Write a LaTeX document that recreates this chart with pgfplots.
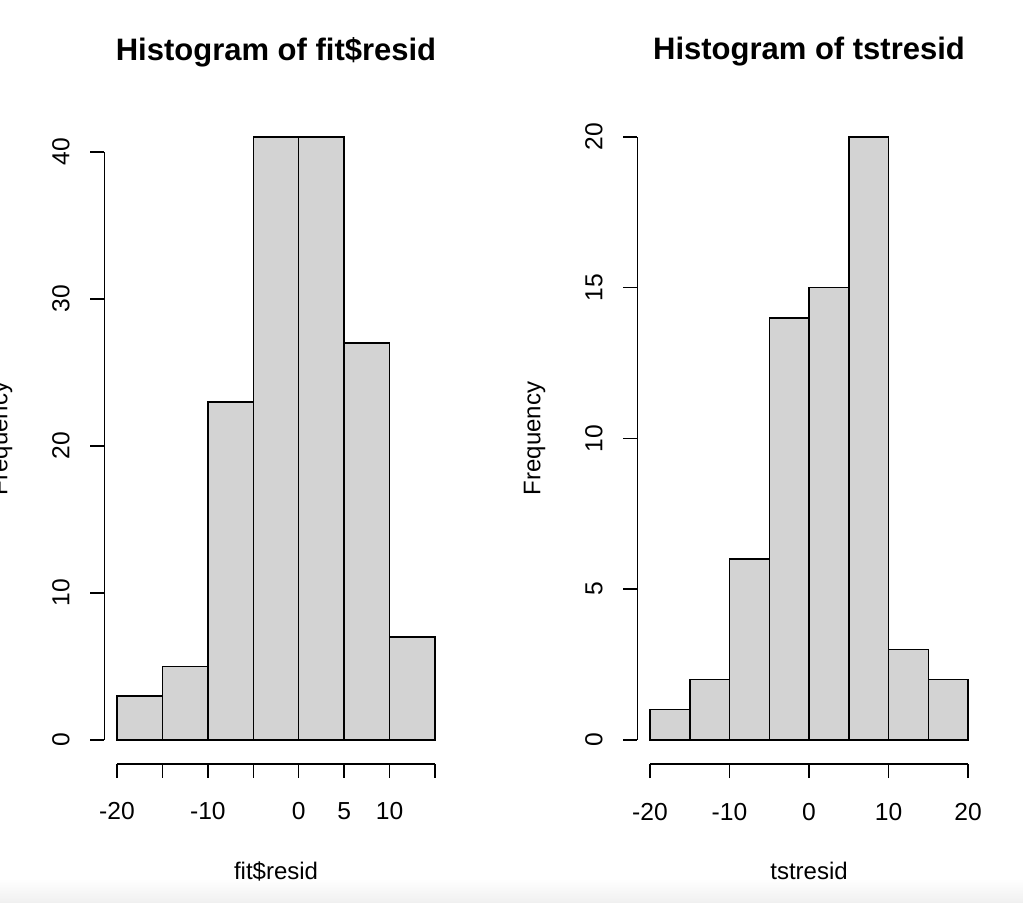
\documentclass[border=0pt]{standalone}
\usepackage{pgfplots}
\pgfplotsset{compat=1.18}
\usepackage{fontspec}
\setmainfont{Liberation Sans}
\definecolor{barfill}{HTML}{D3D3D3}

% R base-graphics look: axes detached from the plot region
\pgfplotsset{
  rhist/.style={
    scale only axis,
    anchor=south west,
    axis x line*=bottom,
    axis y line*=left,
    axis line style={-, line width=0.75bp},
    tick align=outside,
    major tick length=7bp,
    every tick/.style={black, line width=0.75bp},
    minor tick num=0,
    ticklabel style={font=\fontsize{12.3bp}{14bp}\selectfont},
    xticklabel style={anchor=base, yshift=-21bp},
    yticklabel style={xshift=-10.5bp, rotate=90, anchor=base},
    label style={font=\fontsize{12bp}{14bp}\selectfont},
    xlabel style={at={(axis description cs:0.5,0)}, anchor=base, yshift=-57.5bp},
    ylabel style={at={(axis description cs:0,0.5)}, anchor=base, yshift=48.5bp},
    title style={at={(axis description cs:0.5,1)}, anchor=base, yshift=20.5bp,
      font=\bfseries\fontsize{15.5bp}{17bp}\selectfont},
    clip=false,
  },
}

\begin{document}
\begin{tikzpicture}
\useasboundingbox (0,0) rectangle (511.5bp,451.5bp);
\shade[top color=white, bottom color=black!6] (0,0) rectangle (511.5bp,12bp);

% left: fit$resid
\begin{axis}[rhist,
  at={(52.15bp,69.5bp)},
  x=4.543bp, y=7.35bp,
  xmin=-21.4, xmax=16.4, ymin=-1.64, ymax=42.64,
  x axis line style={shorten <=6.36bp, shorten >=6.36bp},
  y axis line style={shorten <=12.05bp, shorten >=19.4bp},
  xtick={-20,-15,-10,-5,0,5,10,15},
  xticklabels={-20,,-10,,0,5,10,},
  ytick={0,10,20,30,40},
  yticklabels={0,10,20,30,40},
  title={Histogram of fit\$resid},
  xlabel={fit\$resid},
  ylabel={Frequency},
]
\addplot[ybar interval, fill=barfill, draw=black, line width=0.75bp]
  coordinates {(-20,3) (-15,5) (-10,23) (-5,41) (0,41) (5,27) (10,7) (15,7)};
\end{axis}

% right: tstresid
\begin{axis}[rhist,
  at={(318.65bp,69.5bp)},
  x=3.975bp, y=15.075bp,
  xmin=-21.6, xmax=21.6, ymin=-0.8, ymax=20.8,
  x axis line style={shorten <=6.36bp, shorten >=6.36bp},
  y axis line style={shorten <=12.06bp, shorten >=12.06bp},
  xtick={-20,-10,0,10,20},
  xticklabels={-20,-10,0,10,20},
  ytick={0,5,10,15,20},
  yticklabels={0,5,10,15,20},
  title={Histogram of tstresid},
  xlabel={tstresid},
  ylabel={Frequency},
]
\addplot[ybar interval, fill=barfill, draw=black, line width=0.75bp]
  coordinates {(-20,1) (-15,2) (-10,6) (-5,14) (0,15) (5,20) (10,3) (15,2) (20,2)};
\end{axis}
\end{tikzpicture}
\end{document}
